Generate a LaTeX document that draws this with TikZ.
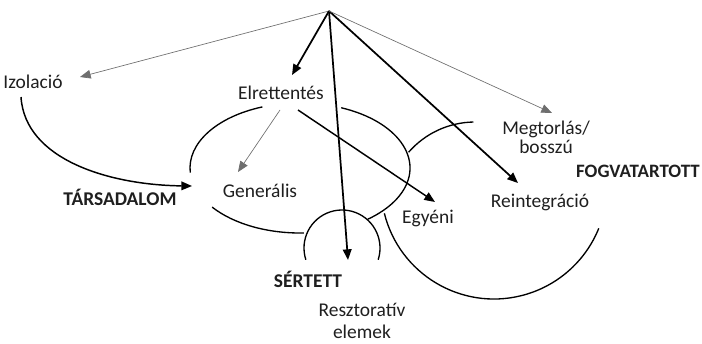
\documentclass[tikz,border=0pt]{standalone}
\usepackage{fontspec}
\setmainfont{Carlito}
\usetikzlibrary{arrows.meta,calc}

\begin{document}
\begin{tikzpicture}[x=0.75pt,y=0.75pt,yscale=-1,xscale=1,
  lbl/.style={inner sep=0.75pt,text=black!88,font=\fontsize{14.6}{17}\selectfont},
  grp/.style={lbl,font=\fontsize{14.6}{17}\selectfont\bfseries},
  tip/.style={-{Triangle[length=8pt,width=6.5pt]}},
  thinarr/.style={tip,draw={rgb, 255:red, 110; green, 110; blue, 110 },line width=0.5pt},
  thickarr/.style={tip,line width=1.3pt},
  arcline/.style={line width=1pt}]
\useasboundingbox (0,0) rectangle (702,343);

% Text Node
\node[lbl,anchor=base] (izo) at (33,88) {Izolació};
% Text Node
\node[lbl,anchor=base] (elr) at (281,99) {Elrettentés};
% Text Node
\node[lbl,anchor=base] (gen) at (260,197) {Generális};
% Text Node
\node[lbl,anchor=base] (egy) at (428,223) {Egyéni};
% Text Node
\node[lbl,anchor=base] (rei) at (540,207) {Reintegráció};
% Text Node
\node[lbl,anchor=north,align=center,font=\fontsize{14.6}{14}\selectfont] (meg) at (546,120) {Megtorlás/\\bosszú};
% Text Node
\node[lbl,anchor=north,align=center,font=\fontsize{14.6}{16.5}\selectfont] (rest) at (362,302) {Resztoratív\\elemek};
% Text Node
\node[grp,anchor=base] (tars) at (120,205) {TÁRSADALOM};
% Text Node
\node[grp,anchor=base] (sert) at (308,287) {SÉRTETT};
% Text Node
\node[grp,anchor=base east,font=\fontsize{14.2}{17}\selectfont\bfseries] (fog) at (701,177) {FOGVATARTOTT};

%Shape: Arc (társadalom)
\coordinate (tc) at (300,168);
\draw[arcline] (tc) ++(250:110 and 65) arc[start angle=250,end angle=176,x radius=110,y radius=65];
\draw[arcline] (tc) ++(143:110 and 65) arc[start angle=143,end angle=88,x radius=110,y radius=65];
\draw[arcline] (tc) ++(-68:110 and 65) arc[start angle=-68,end angle=52,x radius=110,y radius=65];
%Shape: Arc (sértett)
\coordinate (sc) at (342,248);
\draw[arcline] (sc) ++(162:38) arc[start angle=162,end angle=378,radius=38];
%Shape: Arc (fogvatartott)
\coordinate (fc) at (494,186);
\draw[arcline] (fc) ++(166:113) arc[start angle=166,end angle=22,radius=113];
\coordinate (fu) at (475,210);
\draw[arcline] (fu) ++(221:88) arc[start angle=221,end angle=269,radius=88];

%Straight Lines from the top
\coordinate (apex) at (329,11);
\draw[thinarr] (apex) -- ($(izo.base)+(47,-11)$);
\draw[thickarr] (apex) -- ($(elr.base)+(11,-24)$);
\draw[thickarr] (apex) -- ($(rest.north)+(-14,-42)$);
\draw[thickarr] (apex) -- ($(rei.base)+(-22,-24)$);
\draw[thinarr] (apex) -- ($(meg.north)+(6,-7)$);
%Straight Lines from elrettentés
\draw[thinarr] ($(elr.base)+(-1,11)$) -- ($(gen.base)+(-22,-25)$);
\draw[tip,line width=1.1pt] ($(elr.base)+(17,11)$) -- ($(egy.base)+(7,-21)$);
%Curve Lines
\draw[tip,line width=1.1pt] ($(izo.base)+(-12,9)$) .. controls ($(izo.base)+(-8,72)$) and ($(tars.base)+(-10,-20)$) .. ($(tars.base)+(72,-19)$);

\end{tikzpicture}
\end{document}
